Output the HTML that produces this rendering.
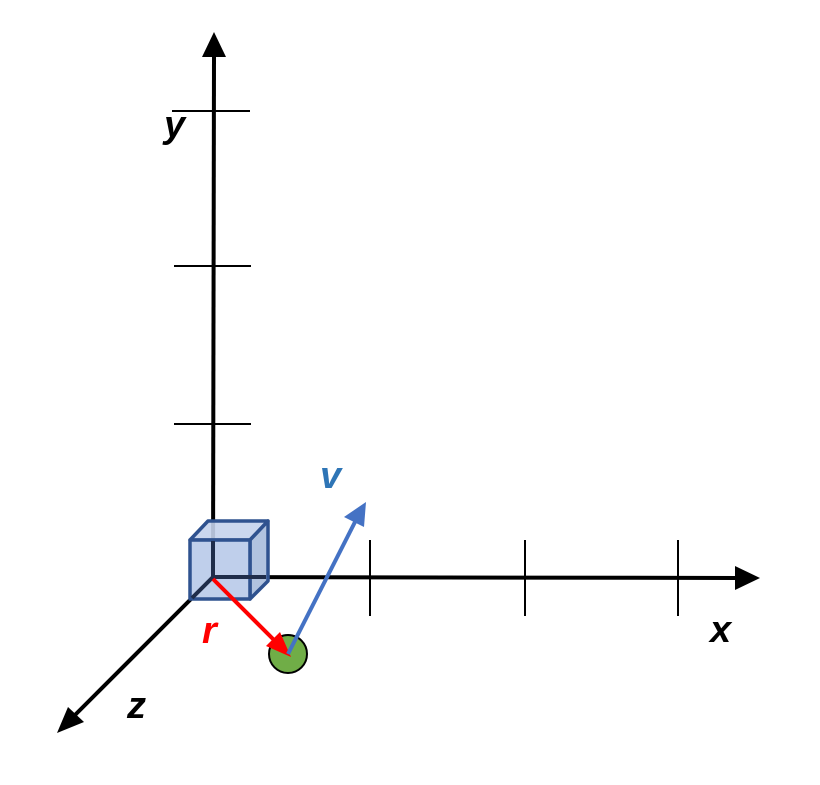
<!DOCTYPE html>
<html><head><style>body{margin:0;background:#fff}</style></head><body>
<svg width="820" height="780" xmlns="http://www.w3.org/2000/svg">
<g stroke="#000" stroke-width="4" fill="none">
<line x1="213" y1="577" x2="214" y2="56"/>
<line x1="213" y1="577" x2="737" y2="578"/>
<line x1="213" y1="577" x2="74" y2="716"/>
</g>
<polygon points="214,32 202,57 226,57" fill="#000"/>
<polygon points="760,578 735,566 735,590" fill="#000"/>
<polygon points="57,733 68,707 84,722" fill="#000"/>
<g stroke="#000" stroke-width="2">
<line x1="172" y1="111" x2="250" y2="111"/>
<line x1="174" y1="266" x2="251" y2="266"/>
<line x1="174" y1="424" x2="251" y2="424"/>
<line x1="370" y1="540" x2="370" y2="616"/>
<line x1="525" y1="540" x2="525" y2="616"/>
<line x1="678" y1="540" x2="678" y2="616"/>
</g>
<g stroke="#2f528f" stroke-width="3.5" stroke-linejoin="round">
<polygon points="190,540 208,521 268,521 250,540" fill="#c5d3ec" fill-opacity="0.9"/>
<polygon points="250,540 268,521 268,581 250,599" fill="#a9bcdc" fill-opacity="0.9"/>
<rect x="190" y="540" width="60" height="59" fill="#b4c7e7" fill-opacity="0.85"/>
</g>
<g stroke="#1f2d4a" stroke-width="4">
<line x1="213" y1="541" x2="213" y2="577"/>
<line x1="213" y1="577" x2="266" y2="577"/>
<line x1="213" y1="577" x2="192" y2="598"/>
</g>
<line x1="213" y1="579" x2="274" y2="640" stroke="#ff0000" stroke-width="4"/>
<circle cx="288" cy="654" r="19" fill="#70ad47" stroke="#000" stroke-width="2"/>
<polygon points="291,657 266,646 280,632" fill="#ff0000"/>
<line x1="288" y1="654" x2="356" y2="520" stroke="#4472c4" stroke-width="4"/>
<polygon points="366,502 344,517 364,527" fill="#4472c4"/>
<g font-family="Liberation Sans, sans-serif" font-size="38" font-style="italic" font-weight="bold">
<text x="164" y="137">y</text>
<text x="710" y="642">x</text>
<text x="127" y="718">z</text>
<text x="202" y="643" fill="#ff0000">r</text>
<text x="320" y="488" fill="#2e75b6">v</text>
</g>
</svg>
</body></html>
